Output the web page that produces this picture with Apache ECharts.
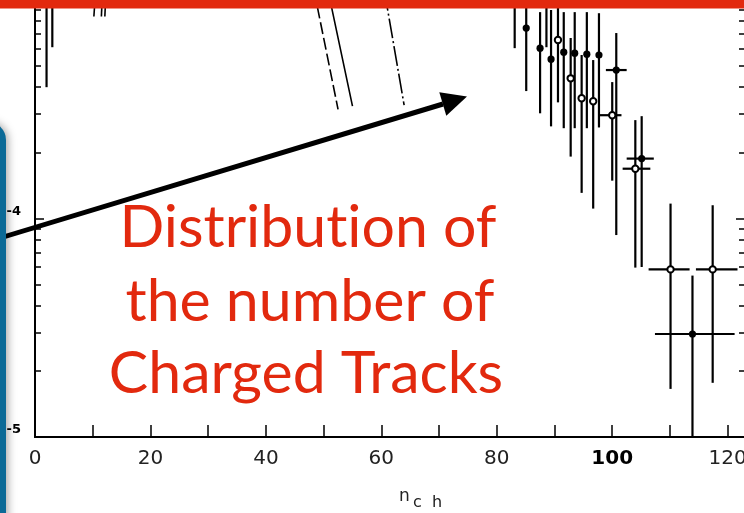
<!DOCTYPE html>
<html><head><meta charset="utf-8">
<script src="https://cdn.jsdelivr.net/npm/echarts@6/dist/echarts.min.js"></script>
<style>html,body{margin:0;padding:0;background:#fff}#c{width:744px;height:513px}</style>
</head><body><div id="c"></div>
<script>
// ---- axes ----
const xTicks = [0,10,20,30,40,50,60,70,80,90,100,110,120];
const xLabels = [0,20,40,60,80,100,120];
const yMajor = [1e-5,1e-4,1e-3];
const yMinor = [2e-5,3e-5,4e-5,5e-5,6e-5,7e-5,8e-5,9e-5,2e-4,3e-4,4e-4,5e-4,6e-4,7e-4,8e-4,9e-4];

// ---- filled-circle points ----
const filledX   = [85.1, 87.5, 89.4, 91.6, 93.5, 95.6, 97.7, 100.7, 105.1, 113.9];
const filledY   = [7.44e-4, 6.02e-4, 5.36e-4, 5.77e-4, 5.71e-4, 5.65e-4, 5.6e-4, 4.78e-4, 1.88e-4, 2.96e-5];
const filledLo  = [3.83e-4, 3.03e-4, 2.64e-4, 2.59e-4, 2.59e-4, 2.59e-4, 2.61e-4, 8.4e-5, 6.0e-5, 5e-6];
const filledHi  = [1.05e-3, 8.8e-4, 9.0e-4, 8.8e-4, 8.8e-4, 8.8e-4, 8.7e-4, 7.06e-4, 2.94e-4, 5.48e-5];
const filledXLo = [null, null, null, null, null, null, null, 98.9, 102.5, 107.4];
const filledXHi = [null, null, null, null, null, null, null, 102.5, 107.2, 121.2];

// ---- open-circle points ----
const openX   = [90.6, 92.8, 94.7, 96.7, 100.0, 104.0, 110.1, 117.4];
const openY   = [6.56e-4, 4.38e-4, 3.55e-4, 3.44e-4, 2.97e-4, 1.69e-4, 5.85e-5, 5.85e-5];
const openLo  = [3.40e-4, 1.92e-4, 1.31e-4, 1.11e-4, 1.49e-4, 5.96e-5, 1.66e-5, 1.77e-5];
const openHi  = [1.05e-3, 6.70e-4, 5.6e-4, 5.31e-4, 4.21e-4, 2.82e-4, 1.17e-4, 1.15e-4];
const openXLo = [null, null, null, null, 97.8, 101.8, 106.3, 114.5];
const openXHi = [null, null, null, null, 101.6, 106.6, 113.4, 121.7];

// ---- error bars whose points lie above the top of the frame ----
const offX  = [2.0, 3.0, 83.1, 88.6];
const offLo = [3.99e-4, 6.08e-4, 6.02e-4, 6.08e-4];
const offY  = 1.4e-3, offHi = 1.6e-3;

// ---- model curves (visible pieces) ----
const dashedRise  = [[10.2, 8.4e-4], [10.5, 1.1e-3]];
const dashedFall  = [[48.3, 1.1e-3], [48.95, 9.2e-4], [52.5, 3.16e-4]];
const solidRise   = [[11.5, 8.4e-4], [11.7, 1.1e-3]];
const solidFall   = [[50.7, 1.1e-3], [51.4, 9.2e-4], [55.0, 3.27e-4]];
const dashDotRise = [[12.1, 8.4e-4], [12.3, 1.1e-3]];
const dashDotFall = [[60.5, 1.1e-3], [61.2, 8.7e-4], [63.95, 3.30e-4]];

const pts = [];
filledX.forEach((x, i) => pts.push([x, filledY[i], filledLo[i], filledHi[i], filledXLo[i], filledXHi[i], 1]));
openX.forEach((x, i) => pts.push([x, openY[i], openLo[i], openHi[i], openXLo[i], openXHi[i], 2]));
offX.forEach((x, i) => pts.push([x, offY, offLo[i], offHi, null, null, 0]));

function renderItem(params, api) {
  const x = api.value(0), y = api.value(1), lo = api.value(2), hi = api.value(3);
  const xl = api.value(4), xh = api.value(5), kind = api.value(6);
  const c = api.coord([x, y]), pl = api.coord([x, lo]), ph = api.coord([x, hi]);
  const st = {stroke: '#000', lineWidth: 2.2};
  const ch = [{type: 'line', shape: {x1: pl[0], y1: pl[1], x2: ph[0], y2: ph[1]}, style: st}];
  if (xl != null && xh != null && !isNaN(xl) && !isNaN(xh)) {
    const a = api.coord([xl, y]), b = api.coord([xh, y]);
    ch.push({type: 'line', shape: {x1: a[0], y1: a[1], x2: b[0], y2: b[1]}, style: st});
  }
  if (kind === 1) ch.push({type: 'circle', shape: {cx: c[0], cy: c[1], r: 3.6}, style: {fill: '#000'}});
  if (kind === 2) ch.push({type: 'circle', shape: {cx: c[0], cy: c[1], r: 3.2}, style: {fill: '#fff', stroke: '#000', lineWidth: 2}});
  return {type: 'group', children: ch};
}

const RED = '#E2290E';
const lineS = (data, type) => ({
  type: 'line', data, xAxisIndex: 0, yAxisIndex: 0, showSymbol: false, symbol: 'none',
  clip: true, silent: true, animation: false,
  lineStyle: {color: '#000', width: 1.6, type}
});

const yBase = {
  type: 'log', logBase: 10, min: 1e-5, max: 1e-3, splitLine: {show: false},
  axisLine: {show: true, lineStyle: {color: '#000', width: 2}},
  axisLabel: {show: false}
};

const chart = echarts.init(document.getElementById('c'), null, {renderer: 'canvas'});
chart.setOption({
  animation: false,
  backgroundColor: '#fff',
  grid: {left: 35, right: -1, top: 0, bottom: 76, containLabel: false, outerBoundsMode: 'none'},
  xAxis: {
    type: 'value', min: 0, max: 123, interval: 20, splitLine: {show: false},
    axisLine: {onZero: false, lineStyle: {color: '#000', width: 2}},
    axisTick: {inside: true, length: 12, customValues: xTicks, lineStyle: {color: '#000', width: 1.5}},
    axisLabel: {
      customValues: xLabels, margin: 12, fontFamily: 'DejaVu Sans', fontSize: 20, color: '#222',
      formatter: v => v === 100 ? '{b|100}' : String(v),
      rich: {b: {fontFamily: 'DejaVu Sans', fontSize: 20, fontWeight: 'bold', color: '#000'}}
    }
  },
  yAxis: [
    Object.assign({}, yBase, {position: 'left',
      axisTick: {inside: true, length: 6, customValues: yMinor, lineStyle: {color: '#000', width: 1.5}}}),
    Object.assign({}, yBase, {position: 'left',
      axisTick: {inside: true, length: 9, customValues: yMajor, lineStyle: {color: '#000', width: 1.5}},
      axisLabel: {show: true, customValues: yMajor, margin: 14, fontFamily: 'DejaVu Sans', fontSize: 13,
        fontWeight: 'bold', color: '#000', verticalAlign: 'bottom', lineHeight: 14,
        formatter: v => v > 5e-4 ? '' : String(Math.round(Math.log10(v)))}}),
    Object.assign({}, yBase, {position: 'right',
      axisTick: {inside: true, length: 6, customValues: yMinor, lineStyle: {color: '#000', width: 1.5}}}),
    Object.assign({}, yBase, {position: 'right',
      axisTick: {inside: true, length: 9, customValues: yMajor, lineStyle: {color: '#000', width: 1.5}}})
  ],
  series: [
    lineS(dashedRise, [12, 4]), lineS(dashedFall, [12, 4]),
    lineS(solidRise, 'solid'), lineS(solidFall, 'solid'),
    lineS(dashDotRise, [20, 3, 2, 3]), lineS(dashDotFall, [20, 3, 2, 3]),
    {
      type: 'custom', xAxisIndex: 0, yAxisIndex: 0, clip: true, silent: true,
      dimensions: ['x', 'y', 'lo', 'hi', 'xl', 'xh', 'k'],
      encode: {x: 'x', y: 'y'},
      renderItem, data: pts
    }
  ],
  graphic: [
    {type: 'line', z: 100, shape: {x1: -5, y1: 239.5, x2: 443, y2: 104}, style: {stroke: '#000', lineWidth: 5}},
    {type: 'polygon', z: 100, shape: {points: [[467, 96.5], [439.3, 92.3], [446.3, 115.7]]}, style: {fill: '#000'}},
    {type: 'rect', z: 110, shape: {x: -30, y: 122, width: 36, height: 420, r: 18},
      style: {fill: '#0B6A97', shadowBlur: 8, shadowColor: 'rgba(0,0,0,0.35)', shadowOffsetX: 2}},
    {type: 'rect', z: 120, shape: {x: 0, y: 0, width: 744, height: 8.5}, style: {fill: RED}},
    {type: 'text', z: 120, x: 308, y: 228, style: {text: 'Distribut\u200Cion of', fill: RED, font: '59px Lato', textAlign: 'center', textVerticalAlign: 'middle'}},
    {type: 'text', z: 120, x: 310, y: 302, style: {text: 'the number of', fill: RED, font: '59px Lato', textAlign: 'center', textVerticalAlign: 'middle'}},
    {type: 'text', z: 120, x: 306, y: 374, style: {text: 'Charged Tracks', fill: RED, font: '59px Lato', textAlign: 'center', textVerticalAlign: 'middle'}},
    {type: 'text', z: 120, x: 399, y: 488, style: {text: 'n', fill: '#222', font: '17px DejaVu Sans'}},
    {type: 'text', z: 120, x: 413, y: 495, style: {text: 'c  h', fill: '#222', font: '16px DejaVu Sans'}}
  ]
});
</script></body></html>
